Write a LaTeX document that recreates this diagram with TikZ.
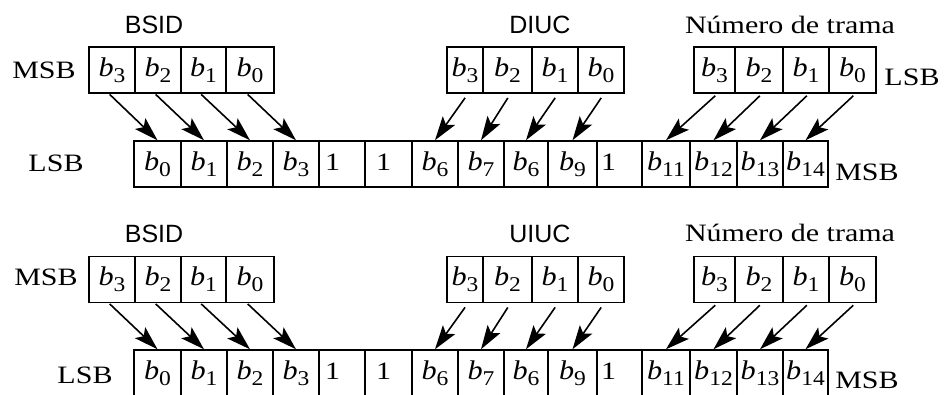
\documentclass[tikz,border=0pt]{standalone}
\usepackage{graphicx}
\usepackage{fontspec}
\setmainfont{Liberation Serif}
\newfontfamily\labelsans{Liberation Sans}
\usetikzlibrary{arrows.meta}

\newcommand{\sx}[1]{\scalebox{1.2}[1]{#1}}
\newcommand{\bit}[1]{\scalebox{1.12}[1]{\fontsize{27}{29}\selectfont\textit{b}\raisebox{-6pt}{\fontsize{21}{22}\selectfont #1}}}
\newcommand{\lone}[2]{\makebox[#1pt][l]{\hspace*{#2pt}\sx{1}\vphantom{\bit{1}}}}

\tikzset{
  cellbox/.style={draw, line width=1.5pt, inner sep=0pt, minimum height=46pt,
                  font=\fontsize{25}{28}\selectfont},
  sanslbl/.style={font=\labelsans\fontsize{25}{28}\selectfont, anchor=base, inner sep=0pt},
  seriflbl/.style={font=\fontsize{25}{28}\selectfont, anchor=base, inner sep=0pt},
  arr/.style={-{Stealth[length=24pt,width=15pt,inset=5pt]}, line width=1.6pt}
}

\newcommand{\cellat}[5]{\node[cellbox, minimum width={#3pt-#2pt}] (#1) at ({(#2+#3)/2},#4) {#5};}

\newcommand{\drawpart}[3]{%
  \cellat{#1s1}{89}{135}{#2}{\bit{3}}
  \cellat{#1s2}{135}{181}{#2}{\bit{2}}
  \cellat{#1s3}{181}{226}{#2}{\bit{1}}
  \cellat{#1s4}{226}{274}{#2}{\bit{0}}
  \cellat{#1d1}{447}{483}{#2}{\bit{3}}
  \cellat{#1d2}{483}{532}{#2}{\bit{2}}
  \cellat{#1d3}{532}{578}{#2}{\bit{1}}
  \cellat{#1d4}{578}{624}{#2}{\bit{0}}
  \cellat{#1n1}{694}{735}{#2}{\bit{3}}
  \cellat{#1n2}{735}{783}{#2}{\bit{2}}
  \cellat{#1n3}{783}{829}{#2}{\bit{1}}
  \cellat{#1n4}{829}{876}{#2}{\bit{0}}
  \cellat{#1r1}{134}{181}{#3}{\bit{0}}
  \cellat{#1r2}{181}{227}{#3}{\bit{1}}
  \cellat{#1r3}{227}{273}{#3}{\bit{2}}
  \cellat{#1r4}{273}{319}{#3}{\bit{3}}
  \cellat{#1r5}{319}{365}{#3}{\lone{46}{6}}
  \cellat{#1r6}{365}{412}{#3}{\lone{47}{11}}
  \cellat{#1r7}{412}{458}{#3}{\bit{6}}
  \cellat{#1r8}{458}{504}{#3}{\bit{7}}
  \cellat{#1r9}{504}{548}{#3}{\bit{6}}
  \cellat{#1r10}{548}{597}{#3}{\bit{9}}
  \cellat{#1r11}{597}{642}{#3}{\lone{45}{4}}
  \cellat{#1r12}{642}{690}{#3}{\bit{11}}
  \cellat{#1r13}{690}{737}{#3}{\bit{12}}
  \cellat{#1r14}{737}{783}{#3}{\bit{13}}
  \cellat{#1r15}{783}{828}{#3}{\bit{14}}
  \foreach \i/\j in {1/1,2/2,3/3,4/4}
    \draw[arr, shorten <=1pt] ([xshift=-3pt]#1s\i.south) -- (#1r\j.north);
  \foreach \i/\j in {1/7,2/8,3/9,4/10}
    \draw[arr, shorten <=5pt] ([xshift=3pt]#1d\i.south) -- (#1r\j.north);
  \foreach \i/\j in {1/12,2/13,3/14,4/15}
    \draw[arr, shorten <=3pt] ([xshift=3pt]#1n\i.south) -- (#1r\j.north);
}

\begin{document}
\begin{tikzpicture}[x=1pt,y=-1pt]
  \fill[white] (0,0) rectangle (946,394);
  \useasboundingbox (0,0) rectangle (946,394);

  % upper part
  \drawpart{t}{70}{164}
  \node[sanslbl] (tbsid) at (154,33) {BSID};
  \node[sanslbl] (tdiuc) at (540,33) {DIUC};
  \node[seriflbl] (tnum) at (790,33) {\sx{Número de trama}};
  \node[seriflbl] (tmsbl) at (44,78) {\sx{MSB}};
  \node[seriflbl] (tlsbl) at (56,171) {\sx{LSB}};
  \node[seriflbl] (tlsbr) at (912,85) {\sx{LSB}};
  \node[seriflbl] (tmsbr) at (867,180) {\sx{MSB}};

  % lower part
  \drawpart{b}{279.5}{373}
  \node[sanslbl] (bbsid) at (154,242) {BSID};
  \node[sanslbl] (buiuc) at (540,242) {UIUC};
  \node[seriflbl] (bnum) at (790,241) {\sx{Número de trama}};
  \node[seriflbl] (bmsbl) at (46,285) {\sx{MSB}};
  \node[seriflbl] (blsbl) at (85,383) {\sx{LSB}};
  \node[seriflbl] (bmsbr) at (867,388) {\sx{MSB}};
\end{tikzpicture}
\end{document}
